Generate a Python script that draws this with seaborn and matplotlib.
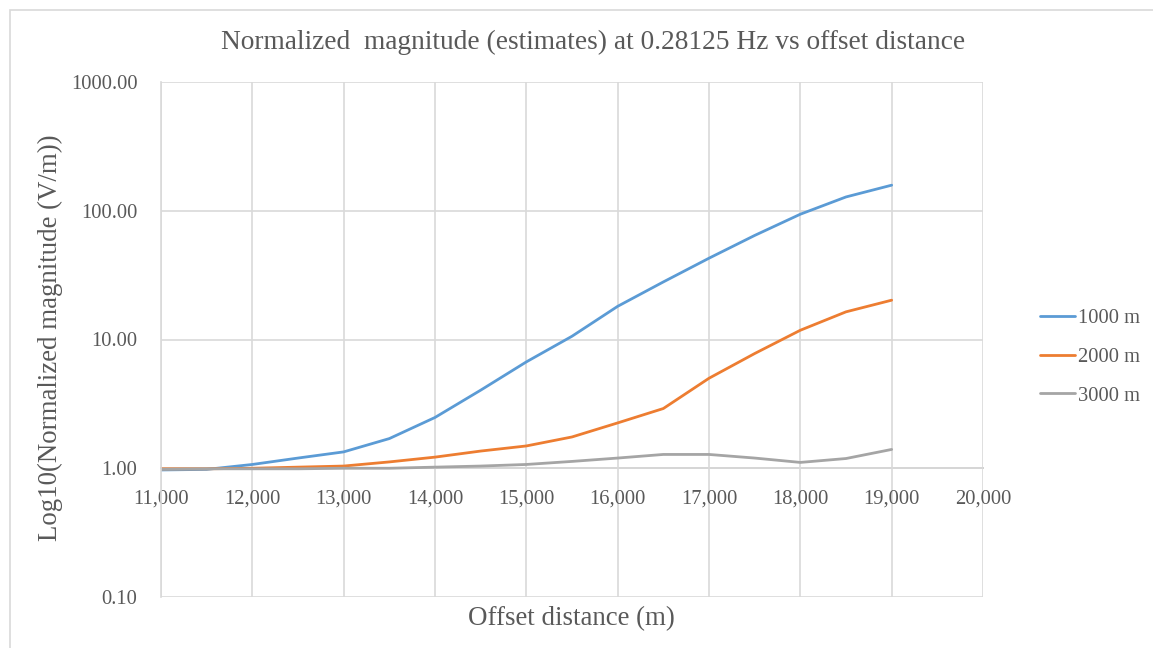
import numpy as np
import pandas as pd
import matplotlib
matplotlib.use("Agg")
import matplotlib.pyplot as plt
import seaborn as sns
from matplotlib.patches import Rectangle

# ---- data ----
offsets = [11000, 11500, 12000, 12500, 13000, 13500, 14000, 14500, 15000,
           15500, 16000, 16500, 17000, 17500, 18000, 18500, 19000]
mag_1000 = [0.97, 0.98, 1.07, 1.20, 1.34, 1.70, 2.48, 4.04, 6.70,
            10.6, 18.1, 28.0, 42.8, 64.3, 94.0, 128.0, 158.0]
mag_2000 = [0.99, 0.99, 1.00, 1.02, 1.04, 1.12, 1.22, 1.36, 1.49,
            1.75, 2.25, 2.91, 5.0, 7.78, 11.8, 16.4, 20.2]
mag_3000 = [0.98, 0.99, 0.99, 0.99, 1.00, 1.00, 1.02, 1.04, 1.07,
            1.13, 1.20, 1.28, 1.28, 1.20, 1.11, 1.19, 1.40]
series_names = ["1000 m", "2000 m", "3000 m"]
colors = ["#5B9BD5", "#ED7D31", "#A5A5A5"]
yticks = [0.1, 1, 10, 100, 1000]
ytick_labels = ["0.10", "1.00", "10.00", "100.00", "1000.00"]
xticks = list(range(11000, 20001, 1000))
xtick_labels = [f"{v:,}" for v in xticks]

df = pd.DataFrame({
    "offset": offsets * 3,
    "mag": mag_1000 + mag_2000 + mag_3000,
    "series": [s for s in series_names for _ in offsets],
})

sns.set_theme(style="white")
plt.rcParams["font.family"] = ["Liberation Serif", "DejaVu Serif"]
txt = "#595959"

fig = plt.figure(figsize=(11.53, 6.48), dpi=100)
fig.patch.set_facecolor("white")
# chart area frame
fig.patches.append(Rectangle((10 / 1153, -0.05), 1.2, 1 - 10 / 648 + 0.05,
                             transform=fig.transFigure, fill=False,
                             edgecolor="#d9d9d9", linewidth=1.2))

ax = fig.add_axes([161 / 1153, 1 - 597 / 648, (983 - 161) / 1153, (597 - 82) / 648])
sns.lineplot(data=df, x="offset", y="mag", hue="series", hue_order=series_names,
             palette=colors, linewidth=2.0, ax=ax, legend=True)

ax.set_yscale("log")
ax.set_ylim(0.1, 1000)
ax.set_xlim(11000, 20000)
ax.set_yticks(yticks)
ax.set_yticklabels(ytick_labels)
ax.minorticks_off()
ax.set_xticks(xticks)
ax.set_xticklabels(xtick_labels)
ax.grid(True, color="#d9d9d9", linewidth=1.2)
ax.set_axisbelow(True)

for s in ["top", "right"]:
    ax.spines[s].set_visible(False)
ax.spines["left"].set_color("#d9d9d9")
ax.spines["left"].set_linewidth(1.2)
ax.spines["bottom"].set_position(("data", 1))
ax.spines["bottom"].set_color("#bfbfbf")
ax.spines["bottom"].set_linewidth(1.2)
ax.spines["bottom"].set_zorder(0.5)
ax.tick_params(axis="both", length=0, labelsize=14.8, labelcolor=txt)
ax.tick_params(axis="x", pad=15)
ax.tick_params(axis="y", pad=17)

ax.set_xlabel("")
ax.set_ylabel("")
fig.text(571 / 1153, 1 - 619 / 648, "Offset distance (m)", ha="center", va="center",
         fontsize=19.4, color=txt)
fig.text(50 / 1153, 1 - 338 / 648, "Log10(Normalized magnitude (V/m))", ha="center",
         va="center", rotation=90, fontsize=19.4, color=txt)
fig.text(593 / 1153, 1 - 42 / 648,
         "Normalized  magnitude (estimates) at 0.28125 Hz vs offset distance",
         ha="center", va="center", fontsize=19.7, color=txt)

leg = ax.legend(loc="center left", bbox_to_anchor=(1.069, 0.466), frameon=False,
                fontsize=14.8, handlelength=1.7, handletextpad=0.15,
                labelspacing=0.95, borderpad=0, borderaxespad=0)
for t in leg.get_texts():
    t.set_color(txt)

fig.savefig("out.png", dpi=100)
